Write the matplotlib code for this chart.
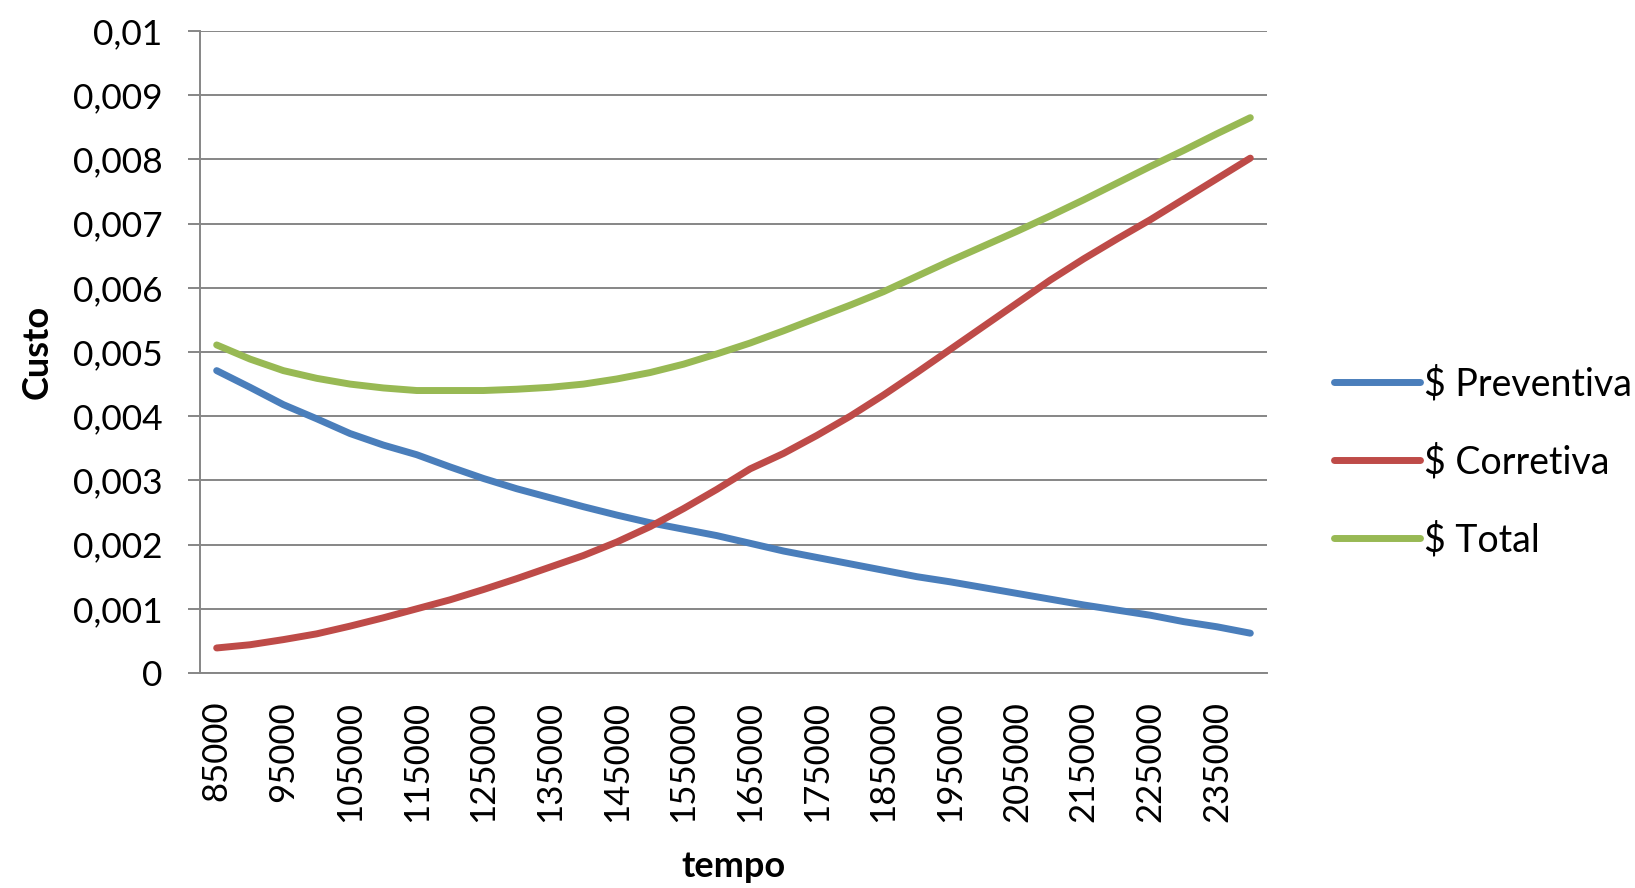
import matplotlib
matplotlib.use('Agg')
from matplotlib import pyplot as plt

plt.rcParams['font.family'] = ['Lato', 'DejaVu Sans']

# tempo categories 85000 .. 240000 step 5000
tempo = [85000, 90000, 95000, 100000, 105000, 110000, 115000, 120000,
         125000, 130000, 135000, 140000, 145000, 150000, 155000, 160000,
         165000, 170000, 175000, 180000, 185000, 190000, 195000, 200000,
         205000, 210000, 215000, 220000, 225000, 230000, 235000, 240000]

preventiva = [0.00471, 0.00445, 0.00418, 0.00396, 0.00373, 0.00355, 0.00340, 0.00321,
              0.00303, 0.00287, 0.00273, 0.00259, 0.00246, 0.00234, 0.00224, 0.00214,
              0.00202, 0.00190, 0.00180, 0.00170, 0.00160, 0.00150, 0.00142, 0.00133,
              0.00124, 0.00115, 0.00106, 0.00098, 0.00090, 0.00080, 0.00072, 0.00062]

corretiva = [0.00039, 0.00044, 0.00052, 0.00061, 0.00073, 0.00086, 0.00100, 0.00114,
             0.00130, 0.00147, 0.00165, 0.00183, 0.00204, 0.00228, 0.00256, 0.00286,
             0.00318, 0.00342, 0.00370, 0.00400, 0.00433, 0.00468, 0.00504, 0.00540,
             0.00576, 0.00612, 0.00645, 0.00676, 0.00706, 0.00738, 0.00770, 0.00802]

total = [0.00511, 0.00489, 0.00471, 0.00459, 0.00450, 0.00444, 0.00440, 0.00440,
         0.00440, 0.00442, 0.00445, 0.00450, 0.00458, 0.00468, 0.00481, 0.00497,
         0.00514, 0.00533, 0.00553, 0.00573, 0.00594, 0.00618, 0.00642, 0.00665,
         0.00688, 0.00712, 0.00737, 0.00763, 0.00789, 0.00814, 0.00840, 0.00865]

y_ticks = [0, 0.001, 0.002, 0.003, 0.004, 0.005, 0.006, 0.007, 0.008, 0.009, 0.01]
y_labels = ['0', '0,001', '0,002', '0,003', '0,004', '0,005', '0,006', '0,007',
            '0,008', '0,009', '0,01']

colors = ['#4A7EBB', '#BE4B48', '#98B954']

fig = plt.figure(figsize=(16.35, 8.88), dpi=100)
ax = fig.add_axes([200/1635, 1-673/888, 1067/1635, 642/888])

x = list(range(len(tempo)))
ax.plot(x, preventiva, color=colors[0], lw=5, label='$ Preventiva', solid_capstyle='round')
ax.plot(x, corretiva, color=colors[1], lw=5, label='$ Corretiva', solid_capstyle='round')
ax.plot(x, total, color=colors[2], lw=5, label='$ Total', solid_capstyle='round')

ax.set_xlim(-0.5, len(tempo) - 0.5)
ax.set_ylim(0, 0.01)
ax.set_yticks(y_ticks)
ax.set_yticklabels(y_labels, fontsize=25.5)
ax.set_xticks(x[::2])
ax.set_xticklabels([str(t) for t in tempo[::2]], rotation=90, fontsize=25)

ax.grid(axis='y', color='#868686', lw=1.4)
ax.set_axisbelow(True)
for s in ['top', 'right']:
    ax.spines[s].set_visible(False)
ax.spines['left'].set_color('#868686')
ax.spines['bottom'].set_color('#868686')
ax.spines['left'].set_linewidth(1.4)
ax.spines['bottom'].set_linewidth(1.4)
ax.tick_params(axis='y', length=9, width=1.4, color='#868686', pad=18)
ax.tick_params(axis='x', length=0, pad=20)

ax.set_xlabel('tempo', fontsize=26, fontweight='bold', labelpad=20)
ax.set_ylabel('Custo', fontsize=26, fontweight='bold', labelpad=14)

fig.legend(loc='center left', bbox_to_anchor=(1300/1635, 1-462/888), frameon=False,
           fontsize=27, handlelength=2.3, handletextpad=0.1, labelspacing=1.1)

fig.savefig('out.png', dpi=100)
